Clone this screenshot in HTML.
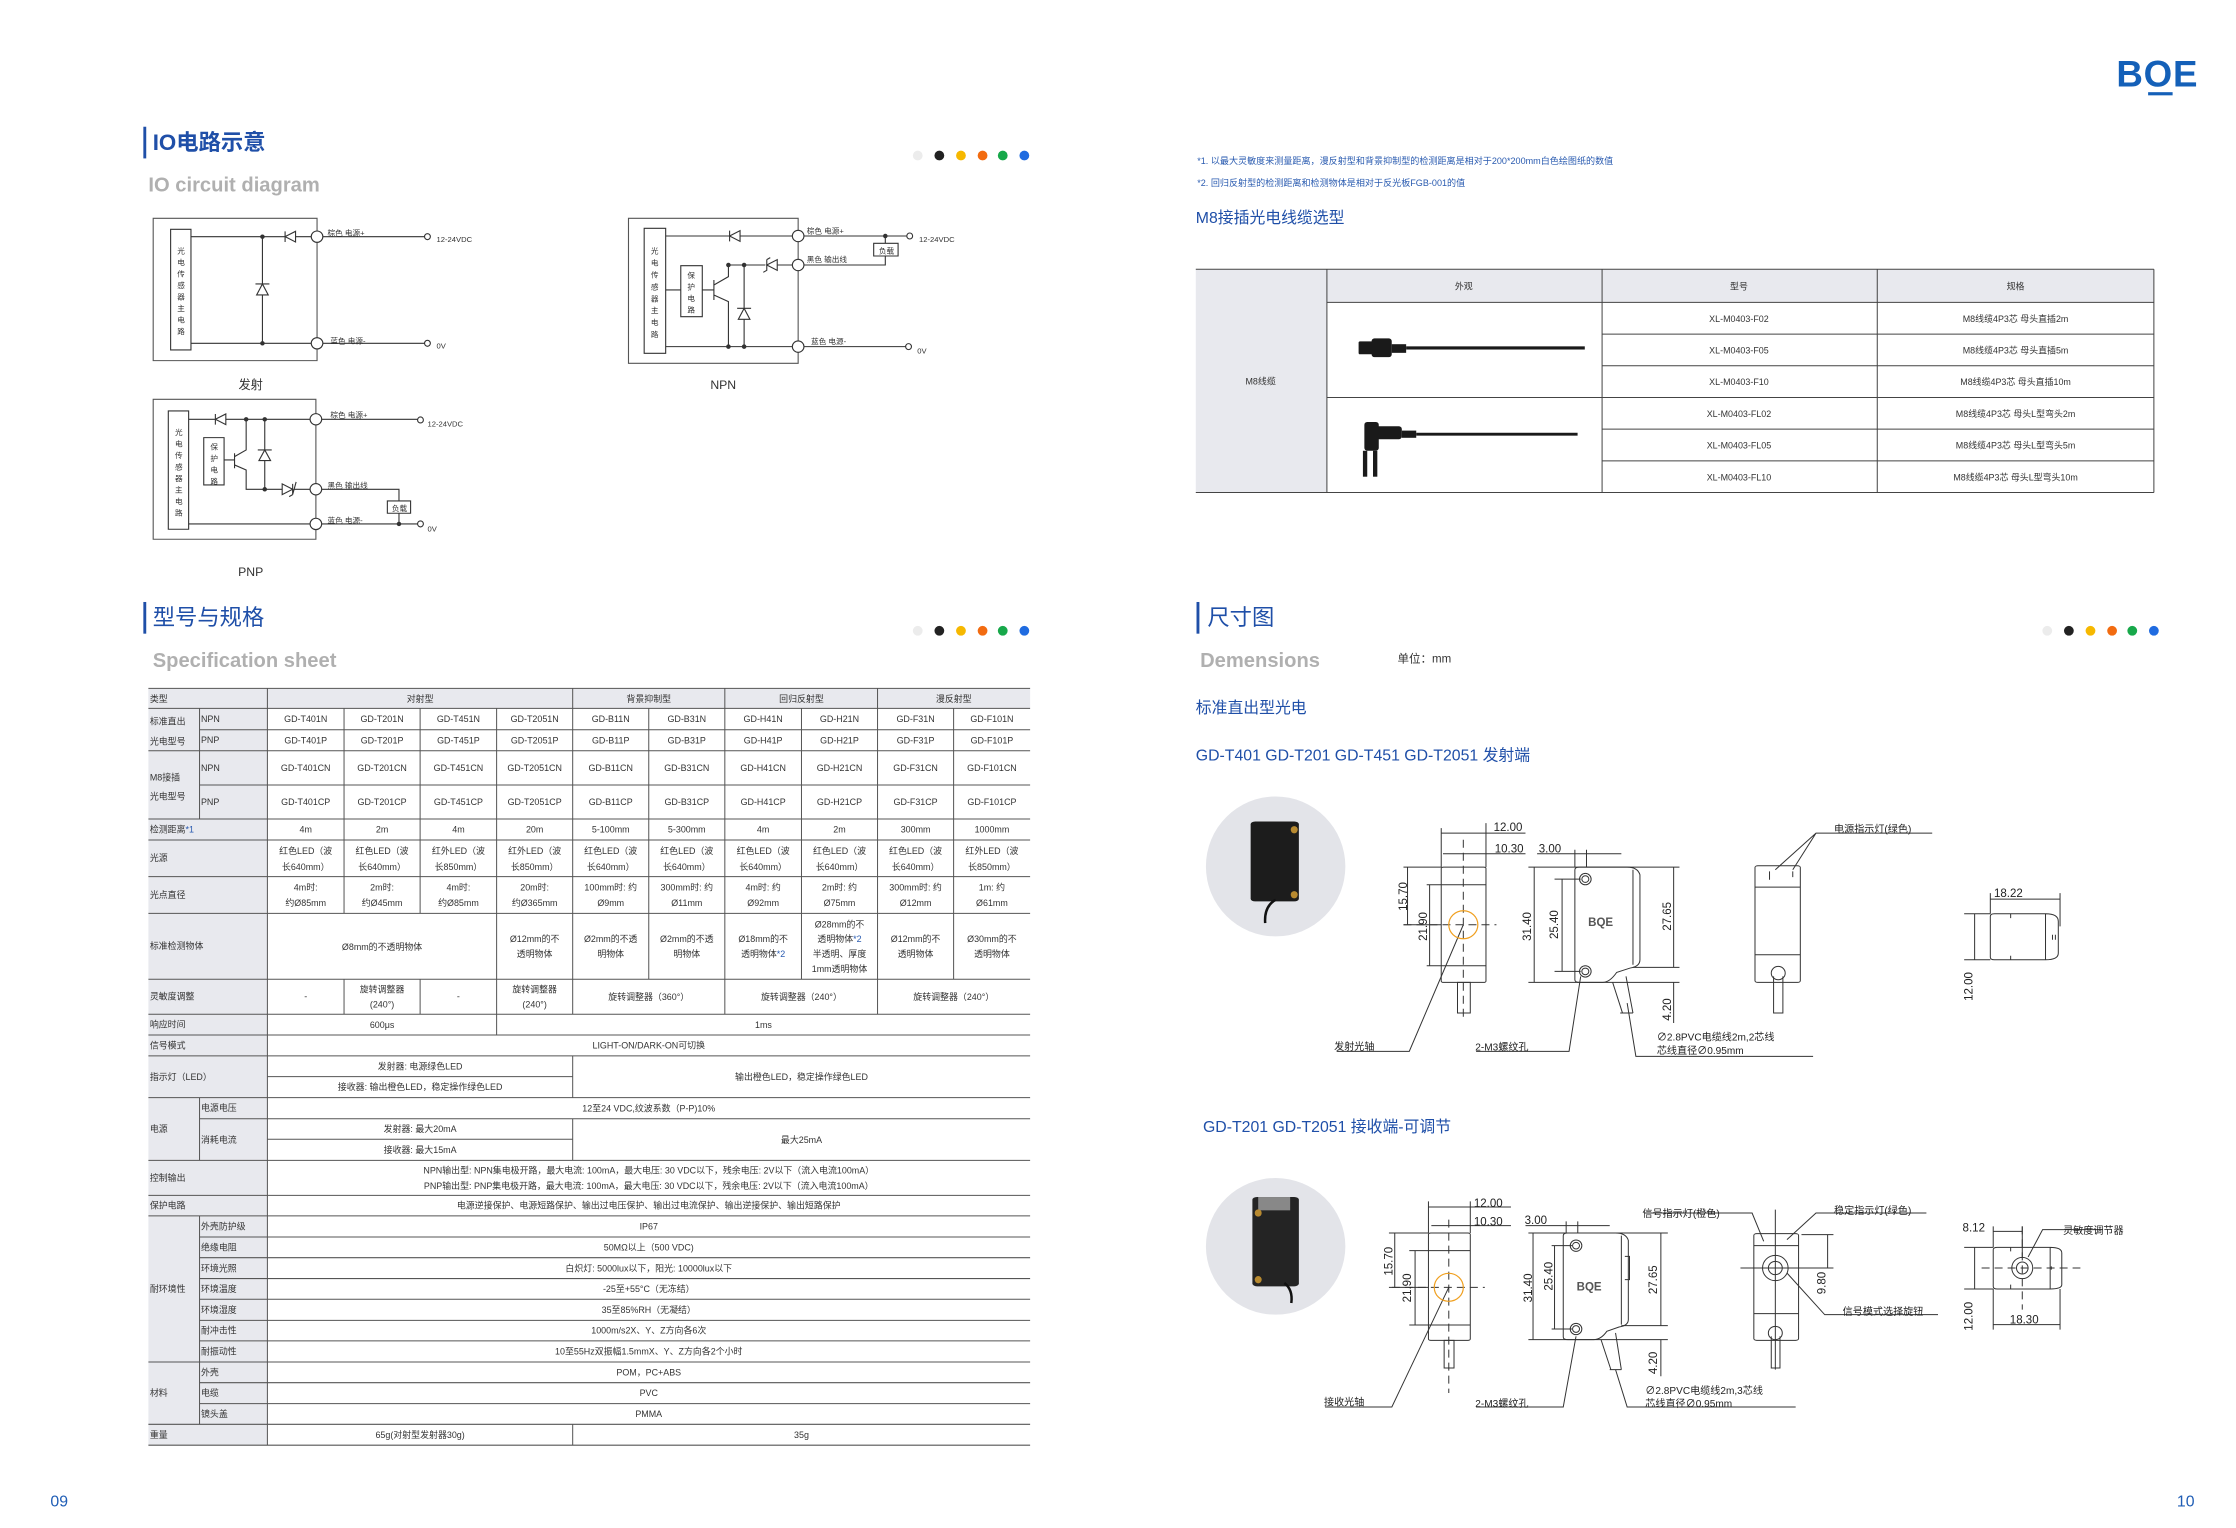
<!DOCTYPE html>
<html><head><meta charset="utf-8"><style>
html,body{margin:0;padding:0;background:#fff;}
svg{display:block;}
text{font-family:"Liberation Sans","Noto Sans CJK SC",sans-serif;}
.z *{vector-effect:non-scaling-stroke;}
.t{font-size:6.2px;fill:#333;text-anchor:middle;}
.tl{font-size:6.2px;fill:#333;}
.c{font-size:5.3px;fill:#333;}
.d{font-size:8px;fill:#222;text-anchor:middle;}
.l{font-size:7px;fill:#222;}
</style></head><body>
<svg width="2236" height="1528" viewBox="0 0 1552 1061" preserveAspectRatio="none" xmlns="http://www.w3.org/2000/svg">
<rect width="1552" height="1061" fill="#fff"/>
<!-- logo -->
<text x="1469" y="60" font-size="25.5" font-weight="bold" fill="#1460b8" letter-spacing="0.5">BOE</text>
<rect x="1491" y="64" width="17" height="2.2" fill="#1460b8"/>
<text x="35" y="1046" font-size="11" fill="#1f5db5">09</text>
<text x="1511" y="1046" font-size="11" fill="#1f5db5">10</text>

<!-- IO title -->
<rect x="99.5" y="88" width="2" height="22" fill="#1f4fa8"/>
<text x="106" y="104" font-size="15.5" font-weight="bold" fill="#1f4fa8">IO电路示意</text>
<text x="103" y="133" font-size="14" font-weight="bold" fill="#b0b0b0">IO circuit diagram</text>
<g><circle cx="637" cy="108" r="3.4" fill="#ececec"/><circle cx="652" cy="108" r="3.4" fill="#222"/><circle cx="667" cy="108" r="3.4" fill="#f6b800"/><circle cx="682" cy="108" r="3.4" fill="#f26b10"/><circle cx="696" cy="108" r="3.4" fill="#17a84a"/><circle cx="711" cy="108" r="3.4" fill="#1f6be0"/></g>

<!-- circuits in zoom3 units -->
<g class="z" transform="translate(90.2,76.4) scale(0.4033,0.2314)" fill="none" stroke="#333" stroke-width="1.1">
 <rect x="40" y="325" width="282" height="427" stroke="#555"/>
 <rect x="70" y="358" width="35" height="362"/>
 <path d="M105 380H312M105 700H312M332 380H507M332 700H507M228 380V700"/>
 <ellipse cx="322" cy="380" rx="10" ry="17" fill="#fff"/><ellipse cx="322" cy="700" rx="10" ry="17" fill="#fff"/>
 <ellipse cx="512" cy="380" rx="5" ry="9" fill="#fff"/><ellipse cx="512" cy="700" rx="5" ry="9" fill="#fff"/>
 <path d="M267 380L285 364V396Z M267 364V396" fill="#fff"/>
 <path d="M218 555H238L228 522Z M216 522H240" fill="#fff"/>
 <ellipse cx="228" cy="380" rx="3" ry="5" fill="#333"/><ellipse cx="228" cy="700" rx="3" ry="5" fill="#333"/>
 <rect x="858" y="325" width="292" height="435" stroke="#555"/>
 <rect x="885" y="355" width="37" height="375"/>
 <rect x="948" y="467" width="37" height="153"/>
 <path d="M922 378H1140M1160 378H1338M922 540H948M985 540H1005M1005 510V570M1005 525L1030 500V465H1140M1005 555L1030 575V710M1057 465V710M922 710H1140M1160 710H1335M1160 465H1300V438M1300 400V378"/>
 <rect x="1280" y="400" width="42" height="38" fill="#fff"/>
 <ellipse cx="1150" cy="378" rx="10" ry="17" fill="#fff"/><ellipse cx="1150" cy="465" rx="10" ry="17" fill="#fff"/><ellipse cx="1150" cy="710" rx="10" ry="17" fill="#fff"/>
 <ellipse cx="1342" cy="378" rx="5" ry="9" fill="#fff"/><ellipse cx="1340" cy="710" rx="5" ry="9" fill="#fff"/>
 <path d="M1032 378L1050 362V394Z M1032 362V394" fill="#fff"/>
 <path d="M1096 465L1114 449V481Z M1096 449V481 L1090 487 M1096 449L1102 443" fill="#fff"/>
 <path d="M1047 628H1067L1057 595Z M1045 595H1069" fill="#fff"/>
 <ellipse cx="1300" cy="378" rx="3" ry="5" fill="#333"/><ellipse cx="1030" cy="465" rx="3" ry="5" fill="#333"/><ellipse cx="1057" cy="465" rx="3" ry="5" fill="#333"/><ellipse cx="1030" cy="710" rx="3" ry="5" fill="#333"/><ellipse cx="1057" cy="710" rx="3" ry="5" fill="#333"/>
 <rect x="40" y="868" width="280" height="420" stroke="#555"/>
 <rect x="66" y="903" width="35" height="355"/>
 <rect x="127" y="983" width="35" height="142"/>
 <path d="M101 928H310M330 928H495M162 1050H180M180 1030V1075M180 1040L200 1020V928M180 1065L200 1080V1138H310M232 928V1138M101 1242H310M330 1242H495M330 1138H463V1173M463 1210V1242"/>
 <rect x="443" y="1173" width="40" height="37" fill="#fff"/>
 <ellipse cx="320" cy="928" rx="10" ry="17" fill="#fff"/><ellipse cx="320" cy="1138" rx="10" ry="17" fill="#fff"/><ellipse cx="320" cy="1242" rx="10" ry="17" fill="#fff"/>
 <ellipse cx="500" cy="930" rx="5" ry="9" fill="#fff"/><ellipse cx="500" cy="1242" rx="5" ry="9" fill="#fff"/>
 <path d="M147 928L165 912V944Z M147 912V944" fill="#fff"/>
 <path d="M222 1052H242L232 1020Z M220 1020H244" fill="#fff"/>
 <path d="M280 1138L262 1122V1154Z M280 1122V1154 L286 1116 M280 1154L274 1160" fill="#fff"/>
 <ellipse cx="200" cy="928" rx="3" ry="5" fill="#333"/><ellipse cx="232" cy="928" rx="3" ry="5" fill="#333"/><ellipse cx="232" cy="1138" rx="3" ry="5" fill="#333"/><ellipse cx="463" cy="1242" rx="3" ry="5" fill="#333"/>
</g>
<g class="c">
 <text x="227.3" y="163.5">棕色  电源+</text><text x="303" y="168">12-24VDC</text>
 <text x="229.3" y="238.5">蓝色  电源-</text><text x="303" y="242">0V</text>
 <text x="560" y="162">棕色  电源+</text><text x="637.9" y="168">12-24VDC</text>
 <text x="560" y="182">黑色  输出线</text><text x="610" y="176">负载</text>
 <text x="562.9" y="239">蓝色  电源-</text><text x="636.7" y="245.5">0V</text>
 <text x="229.3" y="290">棕色  电源+</text><text x="296.7" y="296">12-24VDC</text>
 <text x="227.3" y="339">黑色  输出线</text><text x="272" y="355">负载</text>
 <text x="227.3" y="363">蓝色  电源-</text><text x="296.7" y="369">0V</text>
</g>
<g class="c" text-anchor="middle" font-size="5.8">
 <text x="125.7" y="176">光</text><text x="125.7" y="184">电</text><text x="125.7" y="192">传</text><text x="125.7" y="200">感</text><text x="125.7" y="208">器</text><text x="125.7" y="216">主</text><text x="125.7" y="224">电</text><text x="125.7" y="232">路</text>
 <text x="454.4" y="176">光</text><text x="454.4" y="184.3">电</text><text x="454.4" y="192.6">传</text><text x="454.4" y="200.9">感</text><text x="454.4" y="209.2">器</text><text x="454.4" y="217.5">主</text><text x="454.4" y="225.8">电</text><text x="454.4" y="234">路</text>
 <text x="479.8" y="193">保</text><text x="479.8" y="201">护</text><text x="479.8" y="209">电</text><text x="479.8" y="217">路</text>
 <text x="124.1" y="302">光</text><text x="124.1" y="310">电</text><text x="124.1" y="318">传</text><text x="124.1" y="326">感</text><text x="124.1" y="334">器</text><text x="124.1" y="342">主</text><text x="124.1" y="350">电</text><text x="124.1" y="358">路</text>
 <text x="148.7" y="312">保</text><text x="148.7" y="320">护</text><text x="148.7" y="328">电</text><text x="148.7" y="336">路</text>
</g>
<g font-size="8.5" fill="#333" text-anchor="middle"><text x="174" y="270">发射</text><text x="502" y="270">NPN</text><text x="174" y="400">PNP</text></g>

<!-- Spec title -->
<rect x="99.5" y="418" width="2" height="22" fill="#1f4fa8"/>
<text x="106" y="434" font-size="15.5" fill="#1f4fa8">型号与规格</text>
<text x="106" y="463" font-size="14" font-weight="bold" fill="#b0b0b0">Specification sheet</text>
<g><circle cx="637" cy="438" r="3.4" fill="#ececec"/><circle cx="652" cy="438" r="3.4" fill="#222"/><circle cx="667" cy="438" r="3.4" fill="#f6b800"/><circle cx="682" cy="438" r="3.4" fill="#f26b10"/><circle cx="696" cy="438" r="3.4" fill="#17a84a"/><circle cx="711" cy="438" r="3.4" fill="#1f6be0"/></g>

<!-- spec table -->
<rect x="103" y="478" width="82.6" height="525.5" fill="#e8e9ee"/>
<rect x="103" y="478" width="612" height="13.9" fill="#e8e9ee"/>
<g stroke="#555" stroke-width="0.7">
 <path d="M103 478H715M103 491.9H715M138.5 506.7H715M103 521.3H715M138.5 545.1H715M103 568.7H715M103 583.3H715M103 608.7H715M103 634.2H715M103 680H715M103 704.3H715M103 718.7H715M103 733.2H715M185.6 747.6H397.5M103 762.2H715M138.5 776.8H715M185.6 791.1H397.5M103 805.7H715M103 830H715M103 844.3H715"/>
 <path d="M138.5 858.9H715M138.5 873.3H715M138.5 887.8H715M138.5 902.2H715M138.5 916.8H715M138.5 931.1H715M103 945.7H715M138.5 960.1H715M138.5 974.6H715M103 989H715M103 1003.5H715"/>
 <path d="M185.6 478V1003.5M138.5 491.9V568.7M138.5 762.2V805.7M138.5 844.3V989"/>
 <path d="M397.5 478V491.9M503.1 478V491.9M609.1 478V491.9"/>
 <path d="M238.8 491.9V634.2M291.6 491.9V634.2M344.7 491.9V718.7M397.5 491.9V704.3M450.3 491.9V680M503.1 491.9V704.3M556.3 491.9V680M609.1 491.9V704.3M661.9 491.9V680"/>
 <path d="M238.8 680V704.3M291.6 680V704.3M397.5 733.2V762.2M397.5 776.8V805.7M397.5 989V1003.5"/>
</g>
<g class="tl">
 <text x="104" y="487.5">类型</text>
 <text x="104" y="503">标准直出</text><text x="104" y="517">光电型号</text>
 <text x="139.5" y="501.5">NPN</text><text x="139.5" y="516">PNP</text>
 <text x="104" y="542">M8接插</text><text x="104" y="555">光电型号</text>
 <text x="139.5" y="535.5">NPN</text><text x="139.5" y="559">PNP</text>
 <text x="104" y="578.2">检测距离<tspan fill="#2a5bb0">*1</tspan></text>
 <text x="104" y="598">光源</text><text x="104" y="623.5">光点直径</text><text x="104" y="659">标准检测物体</text>
 <text x="104" y="694">灵敏度调整</text><text x="104" y="713.5">响应时间</text><text x="104" y="728">信号模式</text>
 <text x="104" y="750">指示灯（LED）</text>
 <text x="104" y="786">电源</text><text x="139.5" y="771.5">电源电压</text><text x="139.5" y="793.5">消耗电流</text>
 <text x="104" y="820">控制输出</text><text x="104" y="839">保护电路</text>
 <text x="139.5" y="853.8">外壳防护级</text><text x="139.5" y="868.3">绝缘电阻</text><text x="139.5" y="882.8">环境光照</text>
 <text x="104" y="897.2">耐环境性</text><text x="139.5" y="897.2">环境温度</text><text x="139.5" y="911.7">环境湿度</text><text x="139.5" y="926">耐冲击性</text><text x="139.5" y="940.6">耐振动性</text>
 <text x="139.5" y="955">外壳</text><text x="104" y="969.5">材料</text><text x="139.5" y="969.5">电缆</text><text x="139.5" y="984">镜头盖</text>
 <text x="104" y="998.5">重量</text>
</g>
<g class="t">
 <text x="291.6" y="487.5">对射型</text><text x="450.3" y="487.5">背景抑制型</text><text x="556.3" y="487.5">回归反射型</text><text x="662" y="487.5">漫反射型</text>
 <text x="212.2" y="501.5">GD-T401N</text><text x="265.2" y="501.5">GD-T201N</text><text x="318.2" y="501.5">GD-T451N</text><text x="371.1" y="501.5">GD-T2051N</text><text x="423.9" y="501.5">GD-B11N</text><text x="476.7" y="501.5">GD-B31N</text><text x="529.7" y="501.5">GD-H41N</text><text x="582.7" y="501.5">GD-H21N</text><text x="635.5" y="501.5">GD-F31N</text><text x="688.5" y="501.5">GD-F101N</text>
 <text x="212.2" y="516.2">GD-T401P</text><text x="265.2" y="516.2">GD-T201P</text><text x="318.2" y="516.2">GD-T451P</text><text x="371.1" y="516.2">GD-T2051P</text><text x="423.9" y="516.2">GD-B11P</text><text x="476.7" y="516.2">GD-B31P</text><text x="529.7" y="516.2">GD-H41P</text><text x="582.7" y="516.2">GD-H21P</text><text x="635.5" y="516.2">GD-F31P</text><text x="688.5" y="516.2">GD-F101P</text>
 <text x="212.2" y="535.5">GD-T401CN</text><text x="265.2" y="535.5">GD-T201CN</text><text x="318.2" y="535.5">GD-T451CN</text><text x="371.1" y="535.5">GD-T2051CN</text><text x="423.9" y="535.5">GD-B11CN</text><text x="476.7" y="535.5">GD-B31CN</text><text x="529.7" y="535.5">GD-H41CN</text><text x="582.7" y="535.5">GD-H21CN</text><text x="635.5" y="535.5">GD-F31CN</text><text x="688.5" y="535.5">GD-F101CN</text>
 <text x="212.2" y="559">GD-T401CP</text><text x="265.2" y="559">GD-T201CP</text><text x="318.2" y="559">GD-T451CP</text><text x="371.1" y="559">GD-T2051CP</text><text x="423.9" y="559">GD-B11CP</text><text x="476.7" y="559">GD-B31CP</text><text x="529.7" y="559">GD-H41CP</text><text x="582.7" y="559">GD-H21CP</text><text x="635.5" y="559">GD-F31CP</text><text x="688.5" y="559">GD-F101CP</text>
 <text x="212.2" y="578.2">4m</text><text x="265.2" y="578.2">2m</text><text x="318.2" y="578.2">4m</text><text x="371.1" y="578.2">20m</text><text x="423.9" y="578.2">5-100mm</text><text x="476.7" y="578.2">5-300mm</text><text x="529.7" y="578.2">4m</text><text x="582.7" y="578.2">2m</text><text x="635.5" y="578.2">300mm</text><text x="688.5" y="578.2">1000mm</text>
 <text x="212.2" y="593">红色LED（波</text><text x="265.2" y="593">红色LED（波</text><text x="318.2" y="593">红外LED（波</text><text x="371.1" y="593">红外LED（波</text><text x="423.9" y="593">红色LED（波</text><text x="476.7" y="593">红色LED（波</text><text x="529.7" y="593">红色LED（波</text><text x="582.7" y="593">红色LED（波</text><text x="635.5" y="593">红色LED（波</text><text x="688.5" y="593">红外LED（波</text>
 <text x="212.2" y="604">长640mm）</text><text x="265.2" y="604">长640mm）</text><text x="318.2" y="604">长850mm）</text><text x="371.1" y="604">长850mm）</text><text x="423.9" y="604">长640mm）</text><text x="476.7" y="604">长640mm）</text><text x="529.7" y="604">长640mm）</text><text x="582.7" y="604">长640mm）</text><text x="635.5" y="604">长640mm）</text><text x="688.5" y="604">长850mm）</text>
 <text x="212.2" y="618.5">4m时:</text><text x="265.2" y="618.5">2m时:</text><text x="318.2" y="618.5">4m时:</text><text x="371.1" y="618.5">20m时:</text><text x="423.9" y="618.5">100mm时: 约</text><text x="476.7" y="618.5">300mm时: 约</text><text x="529.7" y="618.5">4m时: 约</text><text x="582.7" y="618.5">2m时: 约</text><text x="635.5" y="618.5">300mm时: 约</text><text x="688.5" y="618.5">1m: 约</text>
 <text x="212.2" y="629">约Ø85mm</text><text x="265.2" y="629">约Ø45mm</text><text x="318.2" y="629">约Ø85mm</text><text x="371.1" y="629">约Ø365mm</text><text x="423.9" y="629">Ø9mm</text><text x="476.7" y="629">Ø11mm</text><text x="529.7" y="629">Ø92mm</text><text x="582.7" y="629">Ø75mm</text><text x="635.5" y="629">Ø12mm</text><text x="688.5" y="629">Ø61mm</text>
 <text x="265.2" y="659.5">Ø8mm的不透明物体</text>
 <text x="371.1" y="654">Ø12mm的不</text><text x="371.1" y="664.5">透明物体</text>
 <text x="423.9" y="654">Ø2mm的不透</text><text x="423.9" y="664.5">明物体</text>
 <text x="476.7" y="654">Ø2mm的不透</text><text x="476.7" y="664.5">明物体</text>
 <text x="529.7" y="654">Ø18mm的不</text><text x="529.7" y="664.5">透明物体<tspan fill="#2a5bb0">*2</tspan></text>
 <text x="582.7" y="644">Ø28mm的不</text><text x="582.7" y="654">透明物体<tspan fill="#2a5bb0">*2</tspan></text><text x="582.7" y="664.5">半透明、厚度</text><text x="582.7" y="675">1mm透明物体</text>
 <text x="635.5" y="654">Ø12mm的不</text><text x="635.5" y="664.5">透明物体</text>
 <text x="688.5" y="654">Ø30mm的不</text><text x="688.5" y="664.5">透明物体</text>
 <text x="212.2" y="694">-</text><text x="265.2" y="689">旋转调整器</text><text x="265.2" y="699.5">(240°)</text><text x="318.2" y="694">-</text><text x="371.1" y="689">旋转调整器</text><text x="371.1" y="699.5">(240°)</text>
 <text x="450.3" y="694.5">旋转调整器（360°）</text><text x="556.3" y="694.5">旋转调整器（240°）</text><text x="662" y="694.5">旋转调整器（240°）</text>
 <text x="265.2" y="713.7">600μs</text><text x="529.9" y="713.7">1ms</text>
 <text x="450.3" y="728.2">LIGHT-ON/DARK-ON可切换</text>
 <text x="291.6" y="742.6">发射器: 电源绿色LED</text><text x="291.6" y="757">接收器: 输出橙色LED，稳定操作绿色LED</text><text x="556.3" y="750">输出橙色LED，稳定操作绿色LED</text>
 <text x="450.3" y="771.7">12至24 VDC,纹波系数（P-P)10%</text>
 <text x="291.6" y="786.2">发射器: 最大20mA</text><text x="291.6" y="800.6">接收器: 最大15mA</text><text x="556.3" y="793.5">最大25mA</text>
 <text x="450.3" y="815">NPN输出型: NPN集电极开路，最大电流: 100mA，最大电压: 30 VDC以下，残余电压: 2V以下（流入电流100mA）</text>
 <text x="450.3" y="825.5">PNP输出型: PNP集电极开路，最大电流: 100mA，最大电压: 30 VDC以下，残余电压: 2V以下（流入电流100mA）</text>
 <text x="450.3" y="839.3">电源逆接保护、电源短路保护、输出过电压保护、输出过电流保护、输出逆接保护、输出短路保护</text>
 <text x="450.3" y="853.8">IP67</text><text x="450.3" y="868.3">50MΩ以上（500 VDC)</text><text x="450.3" y="882.8">白炽灯: 5000lux以下，阳光: 10000lux以下</text>
 <text x="450.3" y="897.2">-25至+55°C（无冻结）</text><text x="450.3" y="911.7">35至85%RH（无凝结）</text><text x="450.3" y="926">1000m/s2X、Y、Z方向各6次</text>
 <text x="450.3" y="940.6">10至55Hz双振幅1.5mmX、Y、Z方向各2个小时</text>
 <text x="450.3" y="955">POM，PC+ABS</text><text x="450.3" y="969.5">PVC</text><text x="450.3" y="984">PMMA</text>
 <text x="291.6" y="998.5">65g(对射型发射器30g)</text><text x="556.3" y="998.5">35g</text>
</g>

<!-- right top notes -->
<text x="831" y="114" font-size="6.3" fill="#2a5bb0">*1. 以最大灵敏度来测量距离，漫反射型和背景抑制型的检测距离是相对于200*200mm白色绘图纸的数值</text>
<text x="831" y="129" font-size="6.3" fill="#2a5bb0">*2. 回归反射型的检测距离和检测物体是相对于反光板FGB-001的值</text>
<text x="830" y="155" font-size="11" fill="#1f4fa8">M8接插光电线缆选型</text>
<rect x="830" y="187" width="91" height="155" fill="#e8e9ee"/>
<rect x="921" y="187" width="574" height="23" fill="#e8e9ee"/>
<g stroke="#444" stroke-width="0.7" fill="none">
 <path d="M830 187H1495M921 210H1495M1112 232H1495M1112 254H1495M921 276H1495M1112 298H1495M1112 320H1495M830 342H1495"/>
 <path d="M921 187V342M1112 187V342M1303 187V342M1495 187V342"/>
</g>
<g class="t">
 <text x="1016" y="201">外观</text><text x="1207" y="201">型号</text><text x="1399" y="201">规格</text>
 <text x="875" y="267">M8线缆</text>
 <text x="1207" y="223.5">XL-M0403-F02</text><text x="1207" y="245.5">XL-M0403-F05</text><text x="1207" y="267.5">XL-M0403-F10</text>
 <text x="1207" y="289.5">XL-M0403-FL02</text><text x="1207" y="311.5">XL-M0403-FL05</text><text x="1207" y="333.5">XL-M0403-FL10</text>
 <text x="1399" y="223.5">M8线缆4P3芯 母头直插2m</text><text x="1399" y="245.5">M8线缆4P3芯 母头直插5m</text><text x="1399" y="267.5">M8线缆4P3芯 母头直插10m</text>
 <text x="1399" y="289.5">M8线缆4P3芯 母头L型弯头2m</text><text x="1399" y="311.5">M8线缆4P3芯 母头L型弯头5m</text><text x="1399" y="333.5">M8线缆4P3芯 母头L型弯头10m</text>
</g>
<g fill="#1a1a1a">
 <rect x="943" y="237" width="10" height="9" rx="1"/><rect x="952" y="235" width="14" height="13" rx="2"/><rect x="966" y="239" width="10" height="6"/>
 <rect x="976" y="240.5" width="124" height="2.2"/>
 <rect x="947" y="293" width="10" height="20" rx="2"/><rect x="955" y="296" width="18" height="9" rx="2"/><rect x="973" y="299" width="10" height="5"/>
 <rect x="983" y="300.5" width="112" height="2"/>
 <rect x="946" y="313" width="3" height="18"/><rect x="953" y="313" width="3" height="18"/>
</g>

<!-- Dimensions title -->
<rect x="830.5" y="418" width="2" height="22" fill="#1f4fa8"/>
<text x="838" y="434" font-size="15.5" fill="#1f4fa8">尺寸图</text>
<text x="833" y="463" font-size="14" font-weight="bold" fill="#b0b0b0">Demensions</text>
<text x="970" y="460" font-size="8" fill="#333">单位：mm</text>
<g><circle cx="1421" cy="438" r="3.4" fill="#ececec"/><circle cx="1436" cy="438" r="3.4" fill="#222"/><circle cx="1451" cy="438" r="3.4" fill="#f6b800"/><circle cx="1466" cy="438" r="3.4" fill="#f26b10"/><circle cx="1480" cy="438" r="3.4" fill="#17a84a"/><circle cx="1495" cy="438" r="3.4" fill="#1f6be0"/></g>
<text x="830" y="495" font-size="11" fill="#1f4fa8">标准直出型光电</text>
<text x="830" y="528" font-size="11" fill="#1f4fa8">GD-T401 GD-T201 GD-T451 GD-T2051 发射端</text>
<text x="835" y="786" font-size="11" fill="#1f4fa8">GD-T201 GD-T2051 接收端-可调节</text>

<!-- drawing 1 -->
<g class="z" transform="translate(835,548.4) scale(0.4033,0.2314)">
 <ellipse cx="125" cy="230" rx="120" ry="210" fill="#e3e4e9"/>
 <rect x="82" y="95" width="83" height="240" rx="8" fill="#1c1c1c"/>
 <ellipse cx="157" cy="120" rx="6" ry="11" fill="#b88a30"/><ellipse cx="157" cy="315" rx="6" ry="11" fill="#b88a30"/>
 <path d="M125 330Q105 350 107 400" stroke="#111" stroke-width="2.5" fill="none"/>
 <g fill="none" stroke="#333" stroke-width="1">
  <rect x="410" y="232" width="77" height="346" rx="4"/>
  <path d="M410 285H487M410 528H487"/>
  <rect x="438" y="578" width="22" height="92"/>
  <path d="M448 150V690M345 405H505" stroke-dasharray="8 5"/>
  <path d="M410 115V232M487 100V232M410 130H555M413 192H555M345 232H410M345 405H410M385 285H410M385 528H410M352 232V405M390 285V528"/>
  <path d="M448 405L355 785H230"/>
  <path d="M640 240Q640 232 648 232H730Q748 232 752 255V510Q752 530 735 535L712 548Q700 578 688 578H648Q640 578 640 570Z"/>
  <path d="M740 240V525M705 578L722 670M728 560L740 670M718 670H740"/>
  <ellipse cx="658" cy="268" rx="10" ry="17"/><ellipse cx="658" cy="268" rx="6" ry="10"/>
  <ellipse cx="658" cy="545" rx="10" ry="17"/><ellipse cx="658" cy="545" rx="6" ry="10"/>
  <path d="M575 192H720M640 180V232M660 180V232M560 232H820M560 578H820M740 533H820M605 268H650M605 545H650M570 232V578M618 268V545M810 232V533M810 578V700"/>
  <path d="M650 560L630 785H470M730 640L745 800H1050"/>
  <rect x="950" y="228" width="78" height="350" rx="5"/>
  <path d="M950 292H1028M950 495H1028M975 245V270M1015 245V262M985 240L1055 130H1255M1015 240L1055 130"/>
  <ellipse cx="990" cy="550" rx="12" ry="20"/><path d="M982 560V670H998V560"/>
  <path d="M1355 380Q1355 372 1362 372H1450Q1472 372 1472 395V490Q1472 510 1450 510H1362Q1355 510 1355 502Z M1450 372V510 M1390 372V385 M1390 498V510 M1462 435V450 M1467 435V450"/>
  <path d="M1355 328H1475M1355 310V372M1475 310V410M1328 372V510M1310 372H1355M1310 510H1355"/>
 </g>
 <ellipse cx="448" cy="405" rx="25" ry="42" fill="none" stroke="#f0a020" stroke-width="1.2"/>
</g>
<g class="d">
 <text x="1046.7" y="577">12.00</text><text x="1047.5" y="592">10.30</text><text x="1075.8" y="592">3.00</text>
 <text transform="translate(976.5,622.5) rotate(-90)">15.70</text><text transform="translate(990.5,643.3) rotate(-90)">21.90</text>
 <text transform="translate(1062.5,643.3) rotate(-90)">31.40</text><text transform="translate(1081.5,642) rotate(-90)">25.40</text>
 <text transform="translate(1160,636.3) rotate(-90)">27.65</text><text transform="translate(1160,701) rotate(-90)">4.20</text>
 <text x="1111" y="643" font-weight="bold" fill="#555">BQE</text>
 <text x="1394" y="623">18.22</text><text transform="translate(1369,685) rotate(-90)">12.00</text>
</g>
<g class="l">
 <text x="926" y="729">发射光轴</text><text x="1024" y="729.5">2-M3螺纹孔</text>
 <text x="1150" y="722.5">∅2.8PVC电缆线2m,2芯线</text><text x="1150" y="732">芯线直径∅0.95mm</text>
 <text x="1273" y="578">电源指示灯(绿色)</text>
</g>

<!-- drawing 2 -->
<g class="z" transform="translate(835,812.2) scale(0.4033,0.2314)">
 <ellipse cx="125" cy="230" rx="120" ry="205" fill="#e3e4e9"/>
 <rect x="85" y="82" width="80" height="268" rx="8" fill="#242424"/>
 <rect x="95" y="82" width="55" height="40" fill="#888"/>
 <ellipse cx="95" cy="130" rx="6" ry="11" fill="#b88a30"/><ellipse cx="95" cy="330" rx="6" ry="11" fill="#b88a30"/>
 <path d="M140 340Q155 360 152 400" stroke="#111" stroke-width="2.5" fill="none"/>
 <g fill="none" stroke="#333" stroke-width="1">
  <rect x="388" y="190" width="72" height="322" rx="4"/>
  <path d="M388 243H460M388 466H460"/>
  <rect x="415" y="512" width="17" height="83"/>
  <path d="M423 150V670M325 353H485" stroke-dasharray="8 5"/>
  <path d="M388 95V190M460 95V190M388 112H530M393 168H530M320 190H388M320 353H388M355 243H388M355 466H388M330 190V353M365 243V466"/>
  <path d="M423 353L325 712H210"/>
  <path d="M620 198Q620 190 628 190H710Q728 190 732 212V450Q732 468 716 472L695 485Q685 510 672 510H628Q620 510 620 502Z M720 198V465 M726 260H734V330H726"/>
  <path d="M685 510L702 600M710 490L720 600M700 600H720"/>
  <ellipse cx="642" cy="228" rx="10" ry="17"/><ellipse cx="642" cy="228" rx="6" ry="10"/>
  <ellipse cx="642" cy="478" rx="10" ry="17"/><ellipse cx="642" cy="478" rx="6" ry="10"/>
  <path d="M555 168H700M625 155V190M645 155V190M560 190H800M560 510H800M720 468H800M600 228H635M600 478H635M568 190V510M605 228V478M788 190V468M788 510V620"/>
  <path d="M642 500L620 712H470M710 600L730 712H1020"/>
  <rect x="948" y="192" width="77" height="320" rx="5"/>
  <path d="M948 228H1025M948 432H1025M985 120V600M925 295H1045M1030 195H1085M1030 295H1085M1075 195V295"/>
  <ellipse cx="985" cy="295" rx="22" ry="38"/><ellipse cx="985" cy="295" rx="12" ry="20"/>
  <ellipse cx="985" cy="490" rx="12" ry="20"/><path d="M978 500V595H993V500"/>
  <path d="M965 215L945 130H760M1005 210L1055 130H1245M1005 310L1070 435H1265"/>
  <path d="M1360 240Q1360 233 1367 233H1458Q1478 233 1478 250V345Q1478 358 1458 358H1367Q1360 358 1360 350Z M1458 233V358 M1390 233V245 M1390 345V358 M1460 290V300"/>
  <ellipse cx="1410" cy="295" rx="18" ry="32"/><ellipse cx="1410" cy="295" rx="10" ry="18"/>
  <path d="M1340 295H1510M1410 170V420" stroke-dasharray="8 5"/>
  <path d="M1360 185H1410M1360 170V233M1410 170V265M1360 465H1475M1360 358V480M1475 358V480M1328 233V358M1310 233H1360M1310 358H1360M1420 262L1445 180H1549"/>
 </g>
 <ellipse cx="423" cy="353" rx="25" ry="42" fill="none" stroke="#f0a020" stroke-width="1.2"/>
</g>
<g class="d">
 <text x="1033" y="838">12.00</text><text x="1033" y="851">10.30</text><text x="1066" y="850">3.00</text>
 <text transform="translate(966.5,875.8) rotate(-90)">15.70</text><text transform="translate(979.5,894.3) rotate(-90)">21.90</text>
 <text transform="translate(1063.3,894.3) rotate(-90)">31.40</text><text transform="translate(1077.5,886.2) rotate(-90)">25.40</text>
 <text transform="translate(1150,888.6) rotate(-90)">27.65</text><text transform="translate(1150,946.4) rotate(-90)">4.20</text>
 <text transform="translate(1267,890.9) rotate(-90)">9.80</text>
 <text x="1103" y="896" font-weight="bold" fill="#555">BQE</text>
 <text x="1370" y="855">8.12</text><text x="1405" y="919">18.30</text>
 <text transform="translate(1369,914) rotate(-90)">12.00</text>
</g>
<g class="l">
 <text x="919" y="976">接收光轴</text><text x="1024" y="977">2-M3螺纹孔</text>
 <text x="1142" y="968">∅2.8PVC电缆线2m,3芯线</text><text x="1142" y="977">芯线直径∅0.95mm</text>
 <text x="1140" y="845">信号指示灯(橙色)</text><text x="1273" y="843">稳定指示灯(绿色)</text>
 <text x="1279" y="913">信号模式选择旋钮</text><text x="1432" y="857">灵敏度调节器</text>
</g>
</svg>
</body></html>
